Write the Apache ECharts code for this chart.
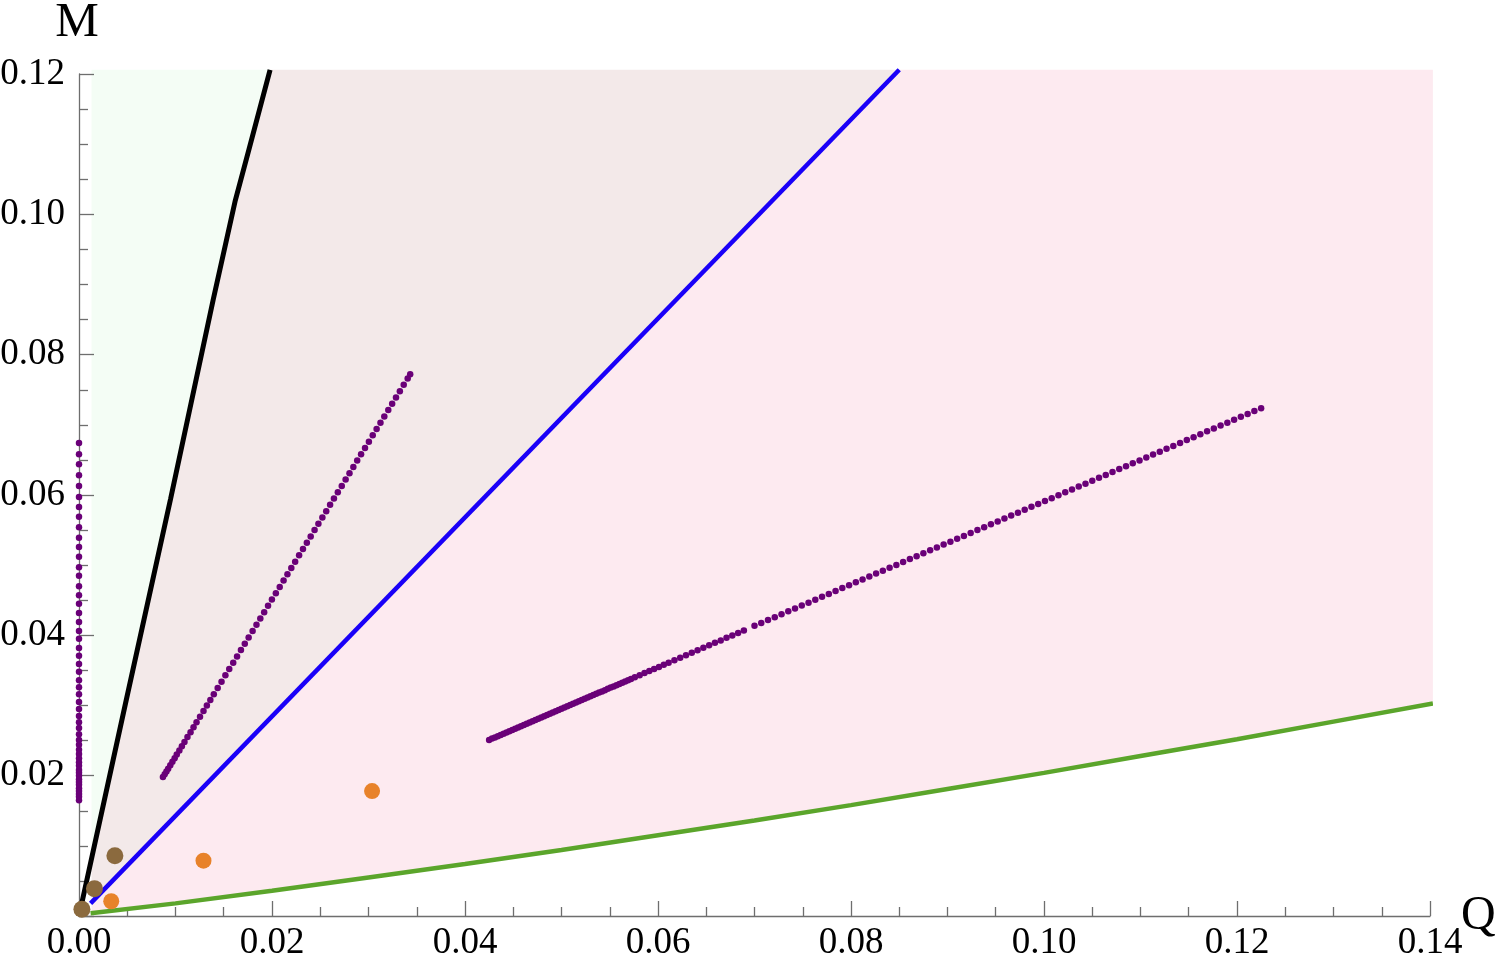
<!DOCTYPE html>
<html><head><meta charset="utf-8">
<script src="https://cdn.jsdelivr.net/npm/echarts@6/dist/echarts.min.js"></script>
<style>html,body{margin:0;padding:0;background:#fff}#c{width:1500px;height:966px}</style>
</head><body><div id="c"></div>
<script>
// ---- tick labels ----
const xTickLabels = ['0.00','0.02','0.04','0.06','0.08','0.10','0.12','0.14'];
const yTickLabels = ['0.00','0.02','0.04','0.06','0.08','0.10','0.12'];

// ---- plot region (RegionPlot extent) ----
const regionQmin = 0.0013, regionQmax = 0.1403, regionMtop = 0.1206;
const blackAtQmin = 0.0085, blueAtQmin = 0.0019, greenAtQmin = 0.0004;

// ---- boundary curves ----
const blackQ = [0, 0.0049, 0.0095, 0.0139, 0.0162, 0.0176, 0.0198];
const blackM = [0, 0.0308, 0.0595, 0.0878, 0.1020, 0.1092, 0.1206];
const blueQ = [0.0012, 0.0850];
const blueM = [0.0018, 0.1206];
const greenQ = [0.0012, 0.01, 0.02, 0.03, 0.04, 0.05, 0.06, 0.07, 0.08, 0.09, 0.10, 0.11, 0.12, 0.13, 0.1403];
const greenM = [0.0004, 0.0018, 0.0036, 0.0055, 0.0074, 0.0094, 0.0115, 0.0136, 0.0158, 0.0181, 0.0204, 0.0228, 0.0252, 0.0277, 0.0303];

// ---- purple dotted families ----
const vertM = [0.0674,0.0658,0.0644,0.0628,0.0613,0.0597,0.0583,0.0569,0.0554,0.0539,0.0526,0.0512,0.0497,0.0485,0.0470,0.0457,0.0445,0.0432,0.0419,0.0406,0.0395,0.0382,0.0371,0.0359,0.0348,0.0336,0.0326,0.0316,0.0305,0.0295,0.0285,0.0276,0.0268,0.0259,0.0251,0.0244,0.0237,0.0231,0.0225,0.0219,0.0214,0.0208,0.0204,0.0200,0.0195,0.0191,0.0187,0.0182,0.0178,0.0174,0.0170,0.0165];
const vertQ = vertM.map(() => 0);

const midQ = [0.0087,0.00888,0.00906,0.00924,0.00946,0.00968,0.00991,0.01013,0.0104,0.01066,0.01093,0.01124,0.01156,0.01187,0.01218,0.01254,0.0129,0.01325,0.01361,0.01397,0.01437,0.01477,0.01517,0.01557,0.01598,0.01638,0.01678,0.01718,0.01758,0.01799,0.01839,0.01879,0.01919,0.01959,0.01999,0.0204,0.0208,0.0212,0.0216,0.0220,0.0224,0.02281,0.02321,0.02361,0.02401,0.02441,0.02481,0.02522,0.02562,0.02602,0.02642,0.02682,0.02723,0.02763,0.02803,0.02843,0.02883,0.02923,0.02964,0.03004,0.03044,0.03084,0.03124,0.03164,0.03205,0.03245,0.03285,0.03325,0.03365,0.03406,0.03432];
const midM = [0.0198,0.0202,0.0206,0.0210,0.0215,0.0220,0.0225,0.0230,0.0236,0.0242,0.0248,0.0255,0.0262,0.0269,0.0276,0.0284,0.0292,0.0300,0.0308,0.0316,0.0325,0.0334,0.0343,0.0352,0.0361,0.0370,0.0379,0.0388,0.0397,0.0406,0.0415,0.0424,0.0433,0.0442,0.0451,0.0460,0.0469,0.0478,0.0487,0.0496,0.0505,0.0514,0.0523,0.0532,0.0541,0.0550,0.0559,0.0568,0.0577,0.0586,0.0595,0.0604,0.0613,0.0622,0.0631,0.0640,0.0649,0.0658,0.0667,0.0676,0.0685,0.0694,0.0703,0.0712,0.0721,0.0730,0.0739,0.0748,0.0757,0.0766,0.0772];

const lowQ = [0.0425,0.0428,0.0431,0.0434,0.0437,0.0440,0.0443,0.0446,0.0449,0.0452,0.0455,0.0458,0.0461,0.0464,0.0467,0.0470,0.0473,0.0476,0.0479,0.0482,0.0485,0.0488,0.0491,0.0494,0.0497,0.0500,0.0503,0.0506,0.0509,0.0512,0.0515,0.0518,0.0521,0.0524,0.0527,0.0530,0.0533,0.0536,0.0539,0.0542,0.0545,0.0548,0.0551,0.0554,0.0557,0.0560,0.0563,0.0566,0.0569,0.0572,
0.0576,0.0581,0.0586,0.0591,0.0596,0.0601,0.0606,0.0611,0.0617,0.0623,0.0629,0.0635,0.0641,0.0647,0.0653,0.0659,0.0665,0.0671,0.0677,0.0683,0.0689,
0.0700,0.0707,0.0714,0.0721,0.0728,0.0735,0.0742,0.0749,0.0756,0.0763,0.0770,0.0777,0.0784,0.0791,0.0798,0.0805,0.0812,0.0819,0.0826,0.0833,0.0840,0.0847,0.0854,0.0861,0.0868,0.0875,0.0882,0.0889,0.0896,0.0903,0.0910,0.0917,0.0924,0.0931,0.0938,0.0945,0.0952,0.0959,0.0966,0.0973,0.0980,0.0987,0.0994,0.1001,0.1008,0.1015,0.1022,0.1029,0.1036,0.1043,0.1050,0.1057,0.1064,0.1071,0.1078,0.1085,0.1092,0.1099,0.1106,0.1113,0.1120,0.1127,0.1134,0.1141,0.1148,0.1155,0.1162,0.1169,0.1176,0.1183,0.1190,0.1197,0.1204,0.1211,0.1218,0.1225];
const lowM = [0.02510,0.02528,0.02545,0.02563,0.02581,0.02599,0.02616,0.02634,0.02652,0.02670,0.02687,0.02705,0.02723,0.02740,0.02758,0.02776,0.02794,0.02811,0.02829,0.02847,0.02865,0.02882,0.02900,0.02918,0.02936,0.02953,0.02971,0.02989,0.03006,0.03024,0.03042,0.03060,0.03077,0.03095,0.03113,0.03131,0.03148,0.03166,0.03184,0.03201,0.03219,0.03237,0.03255,0.03272,0.03290,0.03308,0.03326,0.03343,0.03361,0.03379,
0.03402,0.03432,0.03462,0.03491,0.03521,0.03550,0.03580,0.03609,0.03645,0.03680,0.03716,0.03751,0.03787,0.03822,0.03857,0.03893,0.03928,0.03964,0.03999,0.04035,0.04070,
0.04135,0.04176,0.04218,0.04259,0.04300,0.04342,0.04383,0.04425,0.04466,0.04507,0.04549,0.04590,0.04631,0.04673,0.04714,0.04756,0.04797,0.04838,0.04880,0.04921,0.04962,0.05004,0.05045,0.05087,0.05128,0.05169,0.05211,0.05252,0.05293,0.05335,0.05376,0.05417,0.05459,0.05500,0.05542,0.05583,0.05624,0.05666,0.05707,0.05748,0.05790,0.05831,0.05873,0.05914,0.05955,0.05997,0.06038,0.06079,0.06121,0.06162,0.06204,0.06245,0.06286,0.06328,0.06369,0.06410,0.06452,0.06493,0.06534,0.06576,0.06617,0.06659,0.06700,0.06741,0.06783,0.06824,0.06865,0.06907,0.06948,0.06990,0.07031,0.07072,0.07114,0.07155,0.07196,0.07238];

// ---- single points ----
const orangeQ = [0.00334, 0.0129, 0.03037];
const orangeM = [0.0021, 0.00788, 0.0178];
const brownQ = [0.0003, 0.0016, 0.00372];
const brownM = [0.00095, 0.0039, 0.0086];

const zip = (a, b) => a.map((v, i) => [v, b[i]]);
const black = zip(blackQ, blackM), blue = zip(blueQ, blueM), green = zip(greenQ, greenM);

// fill polygons built from the boundary curves
const blackDown = black.filter(p => p[0] > regionQmin).reverse();
const greenPoly = [[regionQmin, regionMtop], ...blackDown, [regionQmin, blackAtQmin]];
const brownPoly = [...blackDown, [regionQmin, blackAtQmin], [regionQmin, blueAtQmin], ...blue.filter(p => p[0] > regionQmin)];
const pinkPoly = [[regionQmin, blueAtQmin], ...blue.filter(p => p[0] > regionQmin), [regionQmax, regionMtop],
  ...green.filter(p => p[0] > regionQmin).reverse(), [regionQmin, greenAtQmin]];
const fills = [
  {pts: greenPoly, color: '#f4fdf5'},
  {pts: brownPoly, color: '#f3e9e9'},
  {pts: pinkPoly, color: '#fdeaf0'}
];

const serif = "'Liberation Serif', 'DejaVu Serif', serif";
const axisGray = '#6e6e6e';
const chart = echarts.init(document.getElementById('c'));
chart.setOption({
  animation: false,
  backgroundColor: '#ffffff',
  grid: {left: 79, right: 70, top: 74, bottom: 50, containLabel: false, outerBoundsMode: 'none'},
  xAxis: {
    type: 'value', min: 0, max: 0.14, interval: 0.02,
    name: 'Q', nameLocation: 'end', nameGap: 31, nameMoveOverlap: false,
    nameTextStyle: {fontFamily: serif, fontSize: 48, color: '#000', verticalAlign: 'middle', padding: [0, 0, 6, 0]},
    axisLine: {show: true, onZero: false, lineStyle: {color: axisGray, width: 1.3}},
    axisTick: {show: true, inside: true, length: 15, lineStyle: {color: axisGray, width: 1.3}},
    minorTick: {show: true, splitNumber: 4, length: 9, lineStyle: {color: axisGray, width: 1.3}},
    splitLine: {show: false},
    axisLabel: {fontFamily: serif, fontSize: 37, color: '#000', margin: 9,
      formatter: v => xTickLabels[Math.round(v / 0.02)] || ''}
  },
  yAxis: {
    type: 'value', min: 0, max: 0.12, interval: 0.02,
    name: 'M', nameLocation: 'end', nameGap: 26, nameMoveOverlap: false,
    nameTextStyle: {fontFamily: serif, fontSize: 49, color: '#000', align: 'center', padding: [0, 4, 0, 0]},
    axisLine: {show: true, onZero: false, lineStyle: {color: axisGray, width: 1.3}},
    axisTick: {show: true, inside: true, length: 15, lineStyle: {color: axisGray, width: 1.3}},
    minorTick: {show: true, splitNumber: 4, length: 9, lineStyle: {color: axisGray, width: 1.3}},
    splitLine: {show: false},
    axisLabel: {fontFamily: serif, fontSize: 37, color: '#000', margin: 14,
      showMinLabel: false,
      formatter: v => yTickLabels[Math.round(v / 0.02)] || ''}
  },
  series: [
    {type: 'custom', coordinateSystem: 'cartesian2d', silent: true, z: 0, clip: false,
      data: [[0, 0]],
      renderItem: (params, api) => ({
        type: 'group',
        children: fills.map(f => ({type: 'polygon', shape: {points: f.pts.map(d => api.coord(d))},
          style: {fill: f.color, stroke: null}}))
      })},
    {type: 'line', data: green, showSymbol: false, clip: false, z: 3,
      lineStyle: {color: '#5ba52b', width: 4.5}},
    {type: 'line', data: blue, showSymbol: false, clip: false, z: 3,
      lineStyle: {color: '#1a00f8', width: 4.5}},
    {type: 'line', data: black, showSymbol: false, clip: false, z: 3,
      lineStyle: {color: '#000000', width: 5}},
    {type: 'scatter', data: zip(vertQ, vertM), symbolSize: 6.5, clip: false, z: 4,
      itemStyle: {color: '#6a0078', opacity: 1}},
    {type: 'scatter', data: zip(midQ, midM), symbolSize: 6.5, z: 4, itemStyle: {color: '#6a0078', opacity: 1}},
    {type: 'scatter', data: zip(lowQ, lowM), symbolSize: 6.5, z: 4, itemStyle: {color: '#6a0078', opacity: 1}},
    {type: 'scatter', data: zip(orangeQ, orangeM), symbolSize: 16, z: 5, itemStyle: {color: '#e8822a', opacity: 1}},
    {type: 'scatter', data: zip(brownQ, brownM), symbolSize: 17, clip: false, z: 5, itemStyle: {color: '#8b6a3e', opacity: 1}}
  ]
});
</script>
</body></html>
